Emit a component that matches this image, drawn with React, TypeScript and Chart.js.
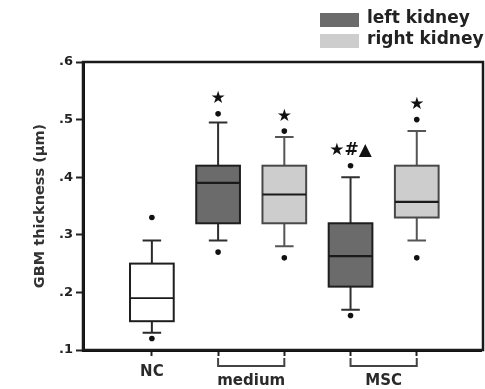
import React, { useEffect, useRef } from "react";
import { Chart, registerables } from "chart.js";

Chart.register(...registerables);

// ---- data ----
const groups = ["NC", "medium", "medium", "MSC", "MSC"];
const kidney = ["control", "left", "right", "left", "right"];
const whiskerLow = [0.13, 0.29, 0.28, 0.17, 0.29];
const q1 = [0.15, 0.32, 0.32, 0.21, 0.33];
const median = [0.19, 0.39, 0.37, 0.263, 0.357];
const q3 = [0.25, 0.42, 0.42, 0.32, 0.42];
const whiskerHigh = [0.29, 0.495, 0.47, 0.4, 0.48];
const outlierLow = [0.12, 0.27, 0.26, 0.16, 0.26];
const outlierHigh = [0.33, 0.51, 0.48, 0.42, 0.5];
const marks = ["", "★", "★", "★#▲", "★"];
const yTicks = [0.1, 0.2, 0.3, 0.4, 0.5, 0.6];
const legendLabels = ["left kidney", "right kidney"];
const yTitle = "GBM thickness (μm)";

const FONT = '"DejaVu Sans", "Liberation Sans", sans-serif';
const styles: Record<string, { fill: string; stroke: string; whisker: string; medianW: number }> = {
  control: { fill: "#ffffff", stroke: "#1e1e1e", whisker: "#2a2a2a", medianW: 1.6 },
  left: { fill: "#6b6b6b", stroke: "#1e1e1e", whisker: "#2f2f2f", medianW: 2.2 },
  right: { fill: "#cdcdcd", stroke: "#484848", whisker: "#555555", medianW: 2.2 },
};
const BOX_HALF = 0.33;
const CAP_HALF = 0.14;

const pos = groups.map((_, i) => i + 1);

const boxPlugin = {
  id: "boxes",
  beforeDatasetsDraw(chart: any) {
    const { ctx, scales } = chart;
    const x = scales.x;
    const y = scales.y;
    ctx.save();
    for (let i = 0; i < pos.length; i++) {
      const st = styles[kidney[i]];
      const cx = x.getPixelForValue(pos[i]);
      const l = x.getPixelForValue(pos[i] - BOX_HALF);
      const r = x.getPixelForValue(pos[i] + BOX_HALF);
      const cl = x.getPixelForValue(pos[i] - CAP_HALF);
      const cr = x.getPixelForValue(pos[i] + CAP_HALF);
      const yq1 = y.getPixelForValue(q1[i]);
      const yq3 = y.getPixelForValue(q3[i]);
      const ymed = y.getPixelForValue(median[i]);
      const ylo = y.getPixelForValue(whiskerLow[i]);
      const yhi = y.getPixelForValue(whiskerHigh[i]);
      // whiskers
      ctx.strokeStyle = st.whisker;
      ctx.lineWidth = 2;
      ctx.beginPath();
      ctx.moveTo(cx, yq3);
      ctx.lineTo(cx, yhi);
      ctx.moveTo(cl, yhi);
      ctx.lineTo(cr, yhi);
      ctx.moveTo(cx, yq1);
      ctx.lineTo(cx, ylo);
      ctx.moveTo(cl, ylo);
      ctx.lineTo(cr, ylo);
      ctx.stroke();
      // box
      ctx.fillStyle = st.fill;
      ctx.fillRect(l, yq3, r - l, yq1 - yq3);
      ctx.strokeStyle = st.stroke;
      ctx.lineWidth = 2;
      ctx.strokeRect(l, yq3, r - l, yq1 - yq3);
      // median
      ctx.strokeStyle = "#1a1a1a";
      ctx.lineWidth = st.medianW;
      ctx.beginPath();
      ctx.moveTo(l, ymed);
      ctx.lineTo(r, ymed);
      ctx.stroke();
    }
    ctx.restore();
  },
  afterDraw(chart: any) {
    const { ctx, scales, chartArea } = chart;
    const x = scales.x;
    const y = scales.y;
    ctx.save();
    // frame
    ctx.strokeStyle = "#1a1a1a";
    ctx.lineWidth = 2.5;
    ctx.strokeRect(chartArea.left, chartArea.top, chartArea.right - chartArea.left + 2, chartArea.bottom - chartArea.top);
    // significance marks
    ctx.fillStyle = "#111";
    ctx.textAlign = "center";
    ctx.textBaseline = "middle";
    ctx.font = `bold 17px ${FONT}`;
    for (let i = 0; i < pos.length; i++) {
      if (!marks[i]) continue;
      ctx.fillText(marks[i], x.getPixelForValue(pos[i]), y.getPixelForValue(outlierHigh[i]) - 15);
    }
    // legend
    const legendFill = [styles.left.fill, styles.right.fill];
    ctx.font = `bold 17px ${FONT}`;
    ctx.textAlign = "left";
    for (let k = 0; k < legendLabels.length; k++) {
      const top = 13 + k * 21;
      ctx.fillStyle = legendFill[k];
      ctx.fillRect(320, top, 39, 14);
      ctx.fillStyle = "#222";
      ctx.fillText(legendLabels[k], 367, top + 6);
    }
    // y title
    ctx.save();
    ctx.translate(40, (chartArea.top + chartArea.bottom) / 2);
    ctx.rotate(-Math.PI / 2);
    ctx.font = `bold 14.5px ${FONT}`;
    ctx.fillStyle = "#333";
    ctx.textAlign = "center";
    ctx.fillText(yTitle, 0, 0);
    ctx.restore();
    // x group labels & brackets
    ctx.font = `bold 15px ${FONT}`;
    ctx.fillStyle = "#2a2a2a";
    ctx.textAlign = "center";
    const done: Record<string, boolean> = {};
    for (let i = 0; i < groups.length; i++) {
      const g = groups[i];
      if (done[g]) continue;
      done[g] = true;
      const idx = groups.map((v, j) => (v === g ? j : -1)).filter((j) => j >= 0);
      const x0 = x.getPixelForValue(pos[idx[0]]);
      const x1 = x.getPixelForValue(pos[idx[idx.length - 1]]);
      if (idx.length > 1) {
        ctx.strokeStyle = "#444";
        ctx.lineWidth = 2;
        ctx.beginPath();
        ctx.moveTo(x0, chartArea.bottom + 8);
        ctx.lineTo(x0, chartArea.bottom + 16);
        ctx.lineTo(x1, chartArea.bottom + 16);
        ctx.lineTo(x1, chartArea.bottom + 8);
        ctx.stroke();
        ctx.fillText(g, (x0 + x1) / 2, chartArea.bottom + 31);
      } else {
        ctx.fillText(g, x0, chartArea.bottom + 22);
      }
    }
    ctx.restore();
  },
};

export default function App() {
  const ref = useRef<HTMLCanvasElement | null>(null);
  useEffect(() => {
    if (!ref.current) return;
    const points: { x: number; y: number }[] = [];
    for (let i = 0; i < pos.length; i++) {
      points.push({ x: pos[i], y: outlierLow[i] });
      points.push({ x: pos[i], y: outlierHigh[i] });
    }
    const chart = new Chart(ref.current, {
      type: "scatter",
      data: {
        datasets: [
          {
            label: "outliers",
            data: points,
            pointRadius: 2.8,
            pointBackgroundColor: "#111",
            pointBorderWidth: 0,
          },
        ],
      },
      options: {
        responsive: false,
        animation: false,
        devicePixelRatio: 1,
        layout: { padding: { top: 62, right: 0, left: 0, bottom: 0 } },
        plugins: { legend: { display: false }, tooltip: { enabled: false } },
        scales: {
          x: {
            type: "linear",
            min: -0.04,
            max: 5.97,
            afterFit: (s: any) => {
              s.height = 39;
            },
            afterBuildTicks: (s: any) => {
              s.ticks = pos.map((v) => ({ value: v }));
            },
            border: { display: true, width: 3, color: "#111" },
            grid: { drawOnChartArea: false, drawTicks: true, tickLength: 6, tickWidth: 2, color: "#222" },
            ticks: { callback: () => "", padding: 0 },
          },
          y: {
            type: "linear",
            min: 0.1,
            max: 0.6,
            afterFit: (s: any) => {
              s.width = 83;
            },
            afterBuildTicks: (s: any) => {
              s.ticks = yTicks.map((v) => ({ value: v }));
            },
            border: { display: true, width: 3, color: "#111" },
            grid: { drawOnChartArea: false, drawTicks: true, tickLength: 7, tickWidth: 2, color: "#222" },
            ticks: {
              padding: 3,
              color: "#222",
              font: { family: FONT, size: 13, weight: "bold" },
              callback: (v: any) => Number(v).toFixed(1).replace(/^0/, ""),
            },
          },
        },
      },
      plugins: [boxPlugin],
    } as any);
    return () => chart.destroy();
  }, []);
  return (
    <div style={{ position: "absolute", left: 0, top: 0, width: 485, height: 389, background: "#fff" }}>
      <canvas ref={ref} width={485} height={389} />
    </div>
  );
}
